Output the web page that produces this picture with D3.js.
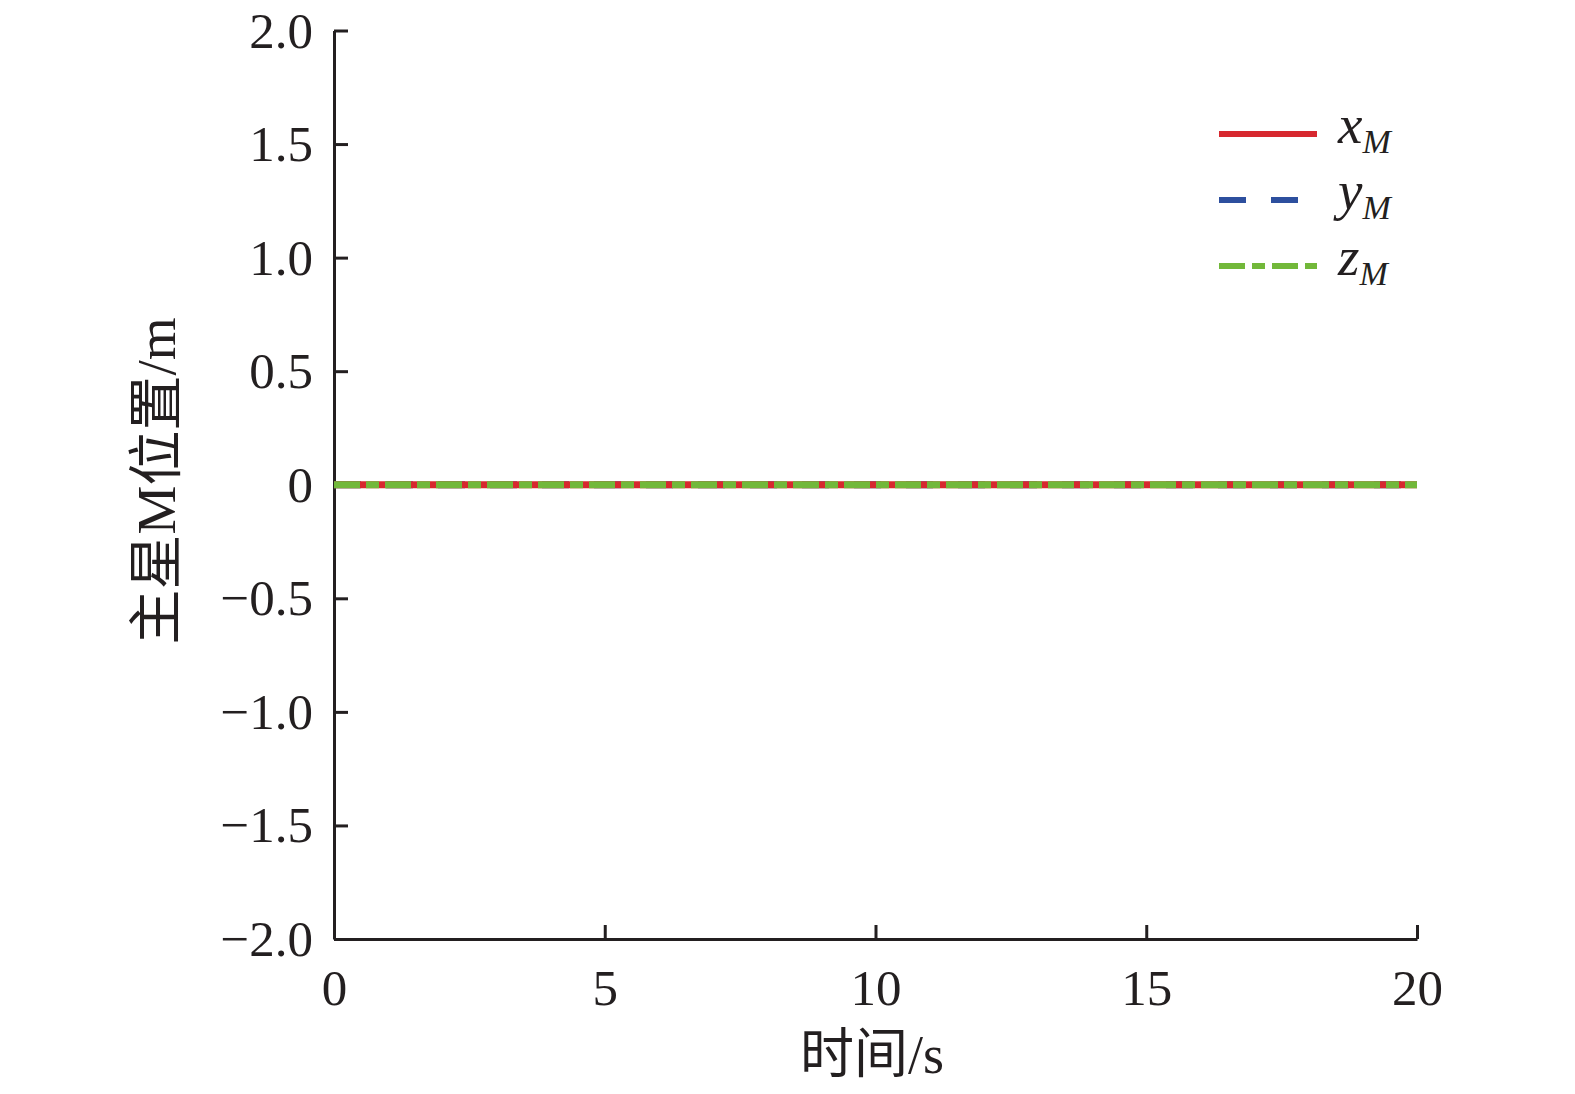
<!DOCTYPE html>
<html>
<head>
<meta charset="utf-8">
<script src="https://cdn.jsdelivr.net/npm/d3@7"></script>
<style>
  body { margin: 0; background: #fff; }
  text { font-family: "Liberation Serif", "Noto Sans CJK SC", serif; fill: #231f20; }
</style>
</head>
<body>
<div class="chart"></div>
<script>
// data: all three coordinates stay at zero
var time = [0, 2, 4, 6, 8, 10, 12, 14, 16, 18, 20];
var xM = [0, 0, 0, 0, 0, 0, 0, 0, 0, 0, 0];
var yM = [0, 0, 0, 0, 0, 0, 0, 0, 0, 0, 0];
var zM = [0, 0, 0, 0, 0, 0, 0, 0, 0, 0, 0];
var seriesNames = ["x", "y", "z"];
var xTicks = [0, 5, 10, 15, 20];
var yTicks = [2.0, 1.5, 1.0, 0.5, 0, -0.5, -1.0, -1.5, -2.0];

var W = 1575, H = 1094;
var margin = {top: 30.5, right: 158, bottom: 155, left: 334};
var width = W - margin.left - margin.right,
    height = H - margin.top - margin.bottom;

var svg = d3.select(".chart").append("svg")
  .attr("width", W)
  .attr("height", H);
var g = svg.append("g")
  .attr("transform", "translate(" + margin.left + "," + margin.top + ")");

var x = d3.scaleLinear().domain([0, 20]).range([0, width]);
var y = d3.scaleLinear().domain([-2, 2]).range([height, 0]);

function fmtY(v) {
  if (v === 0) return "0";
  return (v < 0 ? "\u2212" : "") + Math.abs(v).toFixed(1);
}

// y axis, ticks pointing inward
var yAxis = g.append("g")
  .call(d3.axisLeft(y).tickValues(yTicks).tickSizeInner(-14).tickSizeOuter(0).tickPadding(21).tickFormat(fmtY));
yAxis.select(".domain").attr("stroke", "#231f20").attr("stroke-width", 3);
yAxis.selectAll(".tick line").attr("stroke", "#231f20").attr("stroke-width", 3);
yAxis.selectAll(".tick text")
  .attr("x", -21)
  .attr("dy", null)
  .attr("y", 16.5)
  .style("font-size", "51px")
  .style("font-family", "Liberation Serif");

// x axis, ticks pointing up
var xAxis = g.append("g")
  .attr("transform", "translate(0," + height + ")")
  .call(d3.axisBottom(x).tickValues(xTicks).tickSizeInner(-14).tickSizeOuter(0).tickFormat(d3.format("d")));
xAxis.select(".domain").attr("stroke", "#231f20").attr("stroke-width", 3);
xAxis.selectAll(".tick text")
  .attr("y", 66)
  .attr("dy", null)
  .style("font-size", "51px")
  .style("font-family", "Liberation Serif");
xAxis.selectAll(".tick line").attr("stroke", "#231f20").attr("stroke-width", 3);

// lines (blue under red, green dash-dot on top)
var styles = [
  {data: xM, color: "#d7282f", dash: null},
  {data: yM, color: "#2d4f9e", dash: "27,25"},
  {data: zM, color: "#72b83a", dash: "26,6,13,6"}
];
var line = d3.line()
  .x(function(d, i) { return x(time[i]); })
  .y(function(d) { return y(d); });

[1, 0, 2].forEach(function(k) {
  var s = styles[k];
  g.append("path")
    .datum(s.data)
    .attr("fill", "none")
    .attr("stroke", s.color)
    .attr("stroke-width", 7)
    .attr("stroke-dasharray", s.dash)
    .attr("d", line);
});

// legend
var leg = svg.append("g").attr("transform", "translate(1219,0)");
var legY = [134, 200, 266];
var legDash = [null, "27,25", "26,7,13,7"];
styles.forEach(function(s, i) {
  leg.append("line")
    .attr("x1", 0).attr("x2", 98)
    .attr("y1", legY[i]).attr("y2", legY[i])
    .attr("stroke", s.color)
    .attr("stroke-width", 6)
    .attr("stroke-dasharray", legDash[i]);
  var t = leg.append("text")
    .attr("x", 119)
    .attr("y", legY[i] + 9)
    .style("font-style", "italic")
    .style("font-size", "55px");
  t.append("tspan").text(seriesNames[i]);
  t.append("tspan").attr("dy", 10).style("font-size", "34px").text("M");
});

// axis titles
svg.append("text")
  .attr("x", 872)
  .attr("y", 1073)
  .attr("text-anchor", "middle")
  .style("font-size", "54px")
  .text("时间/s");

svg.append("text")
  .attr("transform", "translate(175,481) rotate(-90)")
  .attr("text-anchor", "middle")
  .style("font-size", "55px")
  .text("主星M位置/m");
</script>
</body>
</html>
